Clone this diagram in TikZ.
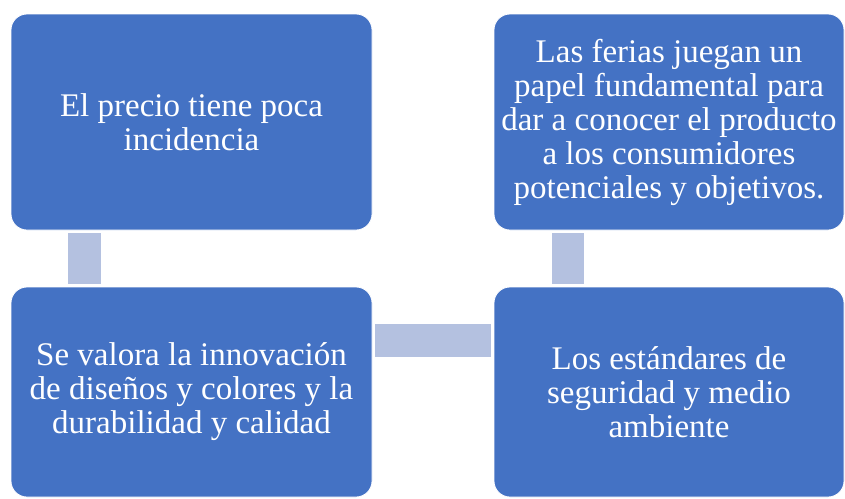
\documentclass[tikz,border=0pt]{standalone}
\usepackage{fontspec}
\setmainfont{Liberation Serif}
\definecolor{boxblue}{HTML}{4472C4}
\definecolor{barblue}{HTML}{B4C1E0}
\begin{document}
\begin{tikzpicture}[
        x=1pt, y=-1pt,
        step box/.style={rectangle, rounded corners=16pt, fill=boxblue, draw=white, line width=0.8pt, text=white, align=center, font=\rmfamily\fontsize{33}{34}\selectfont, inner sep=0pt},
        bar/.style={fill=barblue, draw=none}
      ]
      \useasboundingbox (0,0) rectangle (845,498);
      \node[step box, minimum width=361pt, minimum height=216pt] (precio) at (191.5,122) {El precio tiene poca\\incidencia};
      \node[step box, minimum width=350pt, minimum height=216pt] (ferias) at (669,122) {Las ferias juegan un\\papel fundamental para\\dar a conocer el producto\\a los consumidores\\potenciales y objetivos.};
      \node[step box, minimum width=361pt, minimum height=210pt] (innovacion) at (191.5,392) {Se valora la innovación\\de diseños y colores y la\\durabilidad y calidad};
      \node[step box, minimum width=350pt, minimum height=210pt] (estandares) at (669,392) {Los estándares de\\seguridad y medio\\ambiente};
      % connectors
      \fill[bar] ([xshift=-123.5pt, yshift=-3pt]precio.south) rectangle ([xshift=-90.5pt, yshift=3pt]innovacion.north);
      \fill[bar] ([yshift=68pt, xshift=3pt]innovacion.east) rectangle ([yshift=35pt, xshift=-3pt]estandares.west);
      \fill[bar] ([xshift=-117pt, yshift=-3pt]ferias.south) rectangle ([xshift=-85pt, yshift=3pt]estandares.north);
    \end{tikzpicture}
\end{document}
